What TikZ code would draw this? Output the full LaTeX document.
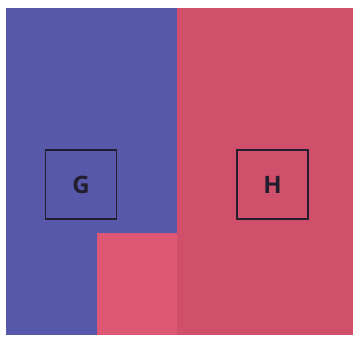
\documentclass[tikz,border=0pt]{standalone}
\usepackage{fontspec}
\setsansfont{Open Sans}
\definecolor{bluereg}{RGB}{88,88,170}
\definecolor{redreg}{RGB}{208,80,108}
\definecolor{redinner}{RGB}{220,88,116}
\definecolor{boxline}{RGB}{35,30,45}
\tikzset{
  labelbox/.style={draw=boxline, line width=1.2pt, minimum width=71pt, minimum height=69pt, inner sep=0pt,
    font=\sffamily\bfseries\fontsize{24}{24}\selectfont, text=boxline}
}
\begin{document}
\begin{tikzpicture}[x=1pt,y=-1pt]
\useasboundingbox[fill=white] (0,0) rectangle (359,337);
\fill[bluereg] (6,8) rectangle (177,335);
\fill[redreg] (177,8) rectangle (353,335);
\fill[redinner] (97,233) rectangle (177,335);
\node[labelbox] (G) at (81,184.5) {G};
\node[labelbox] (H) at (272.5,184.5) {H};
\end{tikzpicture}
\end{document}
